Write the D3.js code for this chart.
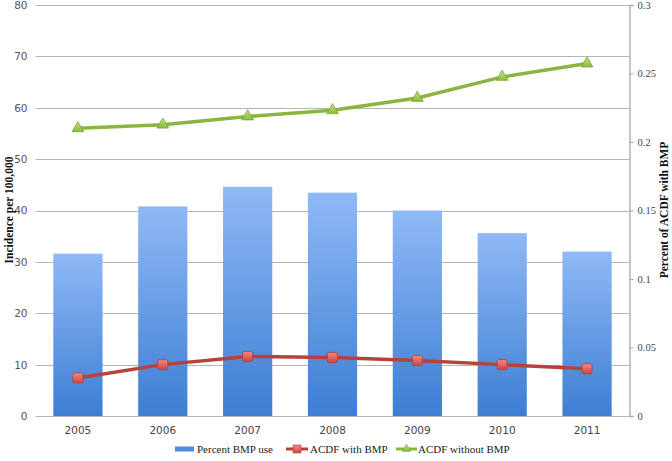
<!DOCTYPE html>
<html><head><meta charset="utf-8">
<script src="https://cdn.jsdelivr.net/npm/d3@7"></script>
<style>body{margin:0;background:#fff;}svg{display:block;}</style>
</head><body>
<svg id="c" width="672" height="461"></svg>
<script>
const years = ["2005","2006","2007","2008","2009","2010","2011"];
const percentBMP = [0.1185,0.153,0.1673,0.163,0.150,0.1335,0.120];
const acdfWithBMP = [7.4,10.0,11.6,11.4,10.8,10.0,9.2];
const acdfWithoutBMP = [56.0,56.7,58.3,59.5,61.9,66.0,68.6];
const leftTicks = [0,10,20,30,40,50,60,70,80];
const rightTicks = [0,0.05,0.1,0.15,0.2,0.25,0.3];
const legendLabels = ["Percent BMP use","ACDF with BMP","ACDF without BMP"];

const svg = d3.select("#c");
const L=35.5, R=629.5, T=5, B=416;
const x = d3.scaleBand().domain(years).range([L,R]).paddingInner(0.42).paddingOuter(0.21);
const yL = d3.scaleLinear().domain([0,80]).range([B,T]);
const yR = d3.scaleLinear().domain([0,0.3]).range([B,T]);

const defs = svg.append("defs");
const g1 = defs.append("linearGradient").attr("id","barg").attr("x1",0).attr("y1",0).attr("x2",0).attr("y2",1);
g1.append("stop").attr("offset","0%").attr("stop-color","#8fb9f6");
g1.append("stop").attr("offset","100%").attr("stop-color","#3d7ed3");
const g2 = defs.append("linearGradient").attr("id","sqg").attr("x1",0).attr("y1",0).attr("x2",0).attr("y2",1);
g2.append("stop").attr("offset","0%").attr("stop-color","#f08a86");
g2.append("stop").attr("offset","100%").attr("stop-color","#d2453f");
const g3 = defs.append("linearGradient").attr("id","trg").attr("x1",0).attr("y1",0).attr("x2",0).attr("y2",1);
g3.append("stop").attr("offset","0%").attr("stop-color","#c3e27e");
g3.append("stop").attr("offset","100%").attr("stop-color","#8cbc3c");

// gridlines (left axis)
svg.append("g").selectAll("line").data(leftTicks).join("line")
  .attr("x1",L).attr("x2",R).attr("y1",d=>Math.round(yL(d))+0.5).attr("y2",d=>Math.round(yL(d))+0.5)
  .attr("stroke","#b4b4b4").attr("stroke-width",1.2);

// left axis labels
const la = svg.append("g").attr("transform",`translate(${L},0)`)
  .call(d3.axisLeft(yL).tickValues(leftTicks).tickSize(0).tickPadding(8).tickFormat(d3.format("d")));
la.select(".domain").remove();
la.selectAll("text").attr("font-family","'DejaVu Sans', sans-serif").attr("font-size",10.5).attr("fill","#555");

// bars
svg.append("g").selectAll("rect").data(years).join("rect")
  .attr("x",d=>x(d)).attr("width",x.bandwidth())
  .attr("y",(d,i)=>yR(percentBMP[i])).attr("height",(d,i)=>B-yR(percentBMP[i]))
  .attr("fill","url(#barg)");

// right axis
const ra = svg.append("g").attr("transform",`translate(${R},0)`)
  .call(d3.axisRight(yR).tickValues(rightTicks).tickSize(4).tickPadding(4).tickFormat(d=>d===0?"0":String(d)));
ra.select(".domain").attr("stroke","#a8a8a8").attr("stroke-width",1.3);
ra.selectAll(".tick line").attr("stroke","#a8a8a8");
ra.selectAll("text").attr("font-family","'Liberation Serif', serif").attr("font-size",10.5).attr("fill","#444");

// x axis labels
const xa = svg.append("g").attr("transform",`translate(0,${B})`)
  .call(d3.axisBottom(x).tickSize(0).tickPadding(11));
xa.select(".domain").remove();
xa.selectAll("text").attr("font-family","'DejaVu Sans', sans-serif").attr("font-size",10.5).attr("fill","#444");

const cx = d=>x(d)+x.bandwidth()/2;
// green line
svg.append("path").datum(acdfWithoutBMP)
  .attr("d",d3.line().x((d,i)=>cx(years[i])).y(d=>yL(d)))
  .attr("fill","none").attr("stroke","#8ab53f").attr("stroke-width",3.5).attr("stroke-linejoin","round");
svg.append("g").selectAll("path").data(acdfWithoutBMP).join("path")
  .attr("d",d3.symbol().type(d3.symbolTriangle).size(60))
  .attr("transform",(d,i)=>`translate(${cx(years[i])},${yL(d)})`)
  .attr("fill","url(#trg)").attr("stroke","#7aa437").attr("stroke-width",0.8);

// red line
svg.append("path").datum(acdfWithBMP)
  .attr("d",d3.line().x((d,i)=>cx(years[i])).y(d=>yL(d)))
  .attr("fill","none").attr("stroke","#b8403d").attr("stroke-width",3.5).attr("stroke-linejoin","round");
svg.append("g").selectAll("rect").data(acdfWithBMP).join("rect")
  .attr("x",(d,i)=>cx(years[i])-5).attr("y",d=>yL(d)-5).attr("width",10).attr("height",10).attr("rx",1.5)
  .attr("fill","url(#sqg)").attr("stroke","#b0403c").attr("stroke-width",0.8);

// axis titles
svg.append("text").attr("transform","translate(13,210) rotate(-90)").attr("text-anchor","middle")
  .attr("font-family","'Liberation Serif', serif").attr("font-weight","bold").attr("font-size",11.5).attr("fill","#111")
  .text("Incidence per 100,000");
svg.append("text").attr("transform","translate(668,210) rotate(-90)").attr("text-anchor","middle")
  .attr("font-family","'Liberation Serif', serif").attr("font-weight","bold").attr("font-size",11.5).attr("fill","#111")
  .text("Percent of ACDF with BMP");

// legend
const ly = 449;
const leg = svg.append("g").attr("font-family","'Liberation Serif', serif").attr("font-size",11).attr("fill","#222");
const swX = [175, 286, 396];
const txX = [197, 310, 418];
leg.append("rect").attr("x",swX[0]).attr("y",ly-2.5).attr("width",19).attr("height",5).attr("fill","#4f8ce0");
leg.append("line").attr("x1",swX[1]).attr("x2",swX[1]+22).attr("y1",ly).attr("y2",ly).attr("stroke","#b8403d").attr("stroke-width",3);
leg.append("rect").attr("x",swX[1]+7).attr("y",ly-4).attr("width",8).attr("height",8).attr("fill","url(#sqg)").attr("stroke","#b0403c").attr("stroke-width",0.6);
leg.append("line").attr("x1",swX[2]).attr("x2",swX[2]+21).attr("y1",ly).attr("y2",ly).attr("stroke","#8ab53f").attr("stroke-width",3);
leg.append("path").attr("d",d3.symbol().type(d3.symbolTriangle).size(30)).attr("transform",`translate(${swX[2]+10.5},${ly})`).attr("fill","url(#trg)").attr("stroke","#7aa437").attr("stroke-width",0.6);
leg.selectAll("text").data(legendLabels).join("text")
  .attr("x",(d,i)=>txX[i]).attr("y",ly+4).text(d=>d);
</script>
</body></html>
